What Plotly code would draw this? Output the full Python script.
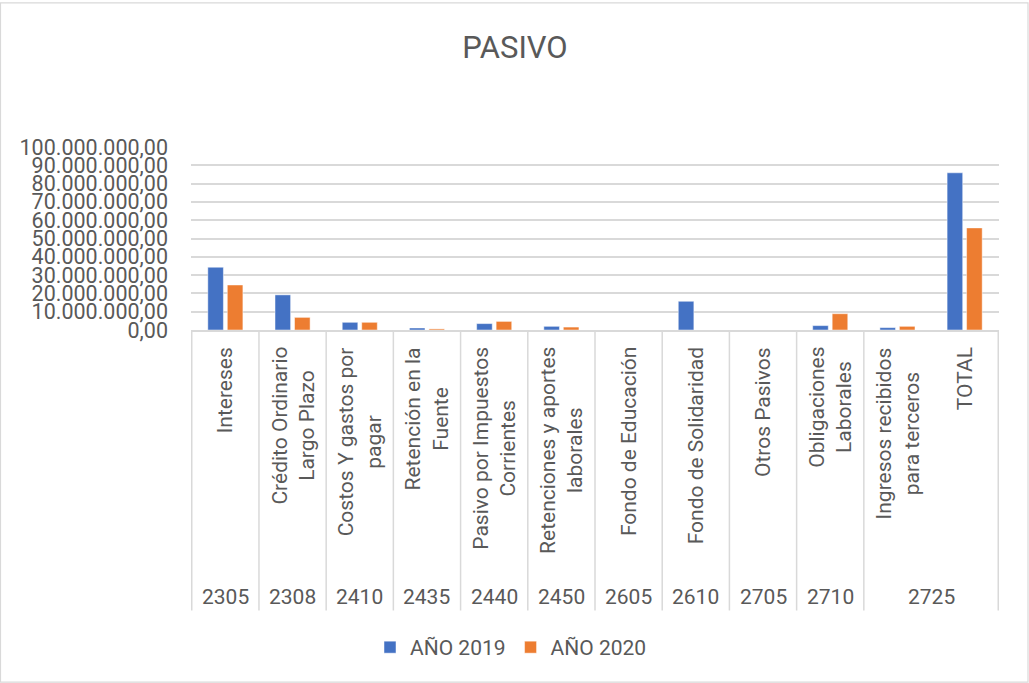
import plotly.graph_objects as go

# ---- data ----
codes = ["2305", "2308", "2410", "2435", "2440", "2450", "2605", "2610", "2705", "2710", "2725", "2725"]
names = [
    "Intereses",
    "Crédito Ordinario<br>Largo Plazo",
    "Costos Y gastos por<br>pagar",
    "Retención en la<br>Fuente",
    "Pasivo por Impuestos<br>Corrientes",
    "Retenciones y aportes<br>laborales",
    "Fondo de Educación",
    "Fondo de Solidaridad",
    "Otros Pasivos",
    "Obligaciones<br>Laborales",
    "Ingresos recibidos<br>para terceros",
    "TOTAL",
]
anio_2019 = [34_300_000, 19_200_000, 4_200_000, 1_100_000, 3_500_000, 2_000_000,
             0, 15_700_000, 0, 2_400_000, 1_300_000, 85_900_000]
anio_2020 = [24_600_000, 6_900_000, 4_200_000, 600_000, 4_700_000, 1_600_000,
             0, 0, 0, 8_900_000, 2_000_000, 55_800_000]

# ---- layout constants (pixels) ----
W, H = 1029, 683
L, R = 191, 999          # plot area left/right
T, B = 147.3, 330        # plot area top/bottom
PH = B - T
PW = R - L
TXT = "#595959"
GRID = "#D9D9D9"
FONT = "Roboto"


def py(px):
    return (B - px) / PH


def pxp(px):
    return (px - L) / PW


cats = [n.replace("<br>", " ") for n in names]

fig = go.Figure()
fig.add_trace(go.Bar(name="AÑO 2019", x=cats, y=anio_2019, marker_color="#4472C4",
                     marker_line=dict(color="rgba(255,255,255,0.6)", width=0.8)))
fig.add_trace(go.Bar(name="AÑO 2020", x=cats, y=anio_2020, marker_color="#ED7D31",
                     marker_line=dict(color="rgba(255,255,255,0.6)", width=0.8)))

annotations = []
# category name labels (rotated)
for i, n in enumerate(names):
    annotations.append(dict(
        x=i, xref="x", y=py(345), yref="paper", text=n, showarrow=False,
        textangle=-90, xanchor="center", yanchor="top", align="center",
        font=dict(family=FONT, size=21, color=TXT),
    ))

# code labels (grouping consecutive identical codes)
groups = []
for i, c in enumerate(codes):
    if groups and groups[-1][0] == c:
        groups[-1][2] = i
    else:
        groups.append([c, i, i])
for c, a, b in groups:
    annotations.append(dict(
        x=(a + b) / 2, xref="x", y=py(597), yref="paper", text=c, showarrow=False,
        xanchor="center", yanchor="middle",
        font=dict(family=FONT, size=21, color=TXT),
    ))

shapes = []
# divider lines between code groups
bounds = [groups[0][1] - 0.5] + [g[2] + 0.5 for g in groups]
for bx in bounds:
    shapes.append(dict(type="line", xref="x", yref="paper", x0=bx, x1=bx,
                       y0=0, y1=py(610), line=dict(color=GRID, width=1.5)))
# chart border
shapes.append(dict(type="rect", xref="paper", yref="paper",
                   x0=pxp(0.5), x1=pxp(1028), y0=py(3.5), y1=py(681.5),
                   line=dict(color=GRID, width=1.2), layer="below"))

fig.update_layout(
    width=W, height=H,
    margin=dict(l=L, r=W - R, t=T, b=H - B),
    paper_bgcolor="white", plot_bgcolor="white",
    separators=",.",
    title=dict(text="PASIVO", x=515 / W, xanchor="center", xref="container",
               y=1 - 47.5 / H, yanchor="middle", yref="container",
               font=dict(family=FONT, size=31, color=TXT)),
    barmode="group", bargap=0.42, bargroupgap=0.2,
    font=dict(family=FONT, color=TXT),
    xaxis=dict(showticklabels=False, showgrid=False, showline=True,
               linecolor=GRID, linewidth=1.5, ticks="", fixedrange=True),
    yaxis=dict(range=[0, 100_000_000], dtick=10_000_000, tick0=0,
               tickformat=",.2f", showgrid=True, gridcolor=GRID, gridwidth=1.5,
               zeroline=False, showline=False, ticks="",
               ticklabelstandoff=22,
               tickfont=dict(family=FONT, size=21.5, color=TXT)),
    showlegend=True,
    legend=dict(orientation="h", x=pxp(511), xanchor="center",
                y=py(647), yanchor="middle",
                font=dict(family=FONT, size=21, color=TXT),
                bgcolor="rgba(0,0,0,0)"),
    annotations=annotations,
    shapes=shapes,
)

fig.write_html("out.html", config={"displayModeBar": False},
               post_script="document.body.style.margin='0';document.body.style.padding='0';")
